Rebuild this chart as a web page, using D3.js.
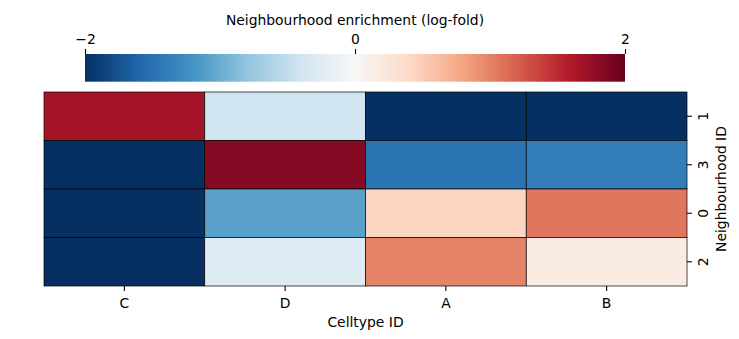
<!DOCTYPE html>
<html><head><meta charset="utf-8">
<script src="https://cdn.jsdelivr.net/npm/d3@7"></script>
<style>html,body{margin:0;padding:0;background:#fff;} text{font-family:"DejaVu Sans",sans-serif;fill:#000;}</style>
</head><body><div id="chart"></div>
<script>
const celltypes = ["C","D","A","B"];
const neighbourhoods = ["1","3","0","2"];
const row1 = [1.67, -0.4, -2.3, -2.3];
const row3 = [-2.3, 1.83, -1.47, -1.39];
const row0 = [-2.3, -1.09, 0.44, 1.07];
const row2 = [-2.3, -0.26, 1.0, 0.17];
const values = [row1, row3, row0, row2];
const cbTicks = [-2, 0, 2];
const rdbuR = ["#053061","#2166ac","#4393c3","#92c5de","#d1e5f0","#f7f7f7","#fddbc7","#f4a582","#d6604d","#b2182b","#67001f"];

const W = 739, H = 339, fs = 13.9;
const svg = d3.select("#chart").append("svg").attr("width", W).attr("height", H);
const g = svg.append("g");

const color = d3.scaleLinear().domain(d3.range(11).map(i => -2 + i * 0.4)).range(rdbuR).clamp(true);
const x = d3.scaleBand().domain(celltypes).range([44, 687]);
const y = d3.scaleBand().domain(neighbourhoods).range([92, 286]);

const cells = [];
neighbourhoods.forEach((r, i) => celltypes.forEach((c, j) => cells.push({r, c, v: values[i][j]})));
g.selectAll("rect.cell").data(cells).enter().append("rect")
  .attr("x", d => x(d.c)).attr("y", d => y(d.r))
  .attr("width", x.bandwidth()).attr("height", y.bandwidth())
  .attr("fill", d => color(d.v)).attr("stroke", "#000").attr("stroke-width", 0.7);

// x axis (bottom)
const xa = g.append("g").attr("transform", "translate(0,286)")
  .call(d3.axisBottom(x).tickSize(4.9));
xa.select(".domain").remove();
xa.selectAll("text").attr("font-size", fs).attr("font-family", "DejaVu Sans").attr("dy", null).attr("y", 22);
xa.selectAll("line").attr("stroke", "#000").attr("stroke-width", 1.1);
g.append("text").attr("x", 365.5).attr("y", 327).attr("text-anchor", "middle").attr("font-size", fs).text("Celltype ID");

// y axis (right)
const ya = g.append("g").attr("transform", "translate(687,0)")
  .call(d3.axisRight(y).tickSize(4.9));
ya.select(".domain").remove();
ya.selectAll("line").attr("stroke", "#000").attr("stroke-width", 1.1);
ya.selectAll("text").attr("font-size", fs).attr("font-family", "DejaVu Sans")
  .attr("text-anchor", "middle").attr("dy", null).attr("x", null)
  .attr("transform", "translate(20.5,0) rotate(-90)");
g.append("text").attr("transform", "translate(726,189) rotate(-90)")
  .attr("text-anchor", "middle").attr("font-size", fs).text("Neighbourhood ID");

// colorbar
const cb = d3.scaleLinear().domain([-2, 2]).range([85, 625]);
const defs = svg.append("defs");
const grad = defs.append("linearGradient").attr("id", "cbgrad").attr("x1", "0%").attr("x2", "100%");
rdbuR.forEach((c, i) => grad.append("stop").attr("offset", (i * 10) + "%").attr("stop-color", c));
g.append("rect").attr("x", cb(-2)).attr("y", 54).attr("width", cb(2) - cb(-2)).attr("height", 27.7).attr("fill", "url(#cbgrad)");
const ca = g.append("g").attr("transform", "translate(0,54)")
  .call(d3.axisTop(cb).tickValues(cbTicks).tickSize(4.9).tickFormat(d => d < 0 ? "\u2212" + Math.abs(d) : d));
ca.select(".domain").remove();
ca.selectAll("line").attr("stroke", "#000").attr("stroke-width", 1.1);
ca.selectAll("text").attr("font-size", fs).attr("font-family", "DejaVu Sans").attr("y", -10.5).attr("dy", null);
g.append("text").attr("x", 355).attr("y", 25).attr("text-anchor", "middle").attr("font-size", fs).text("Neighbourhood enrichment (log-fold)");
</script></body></html>
